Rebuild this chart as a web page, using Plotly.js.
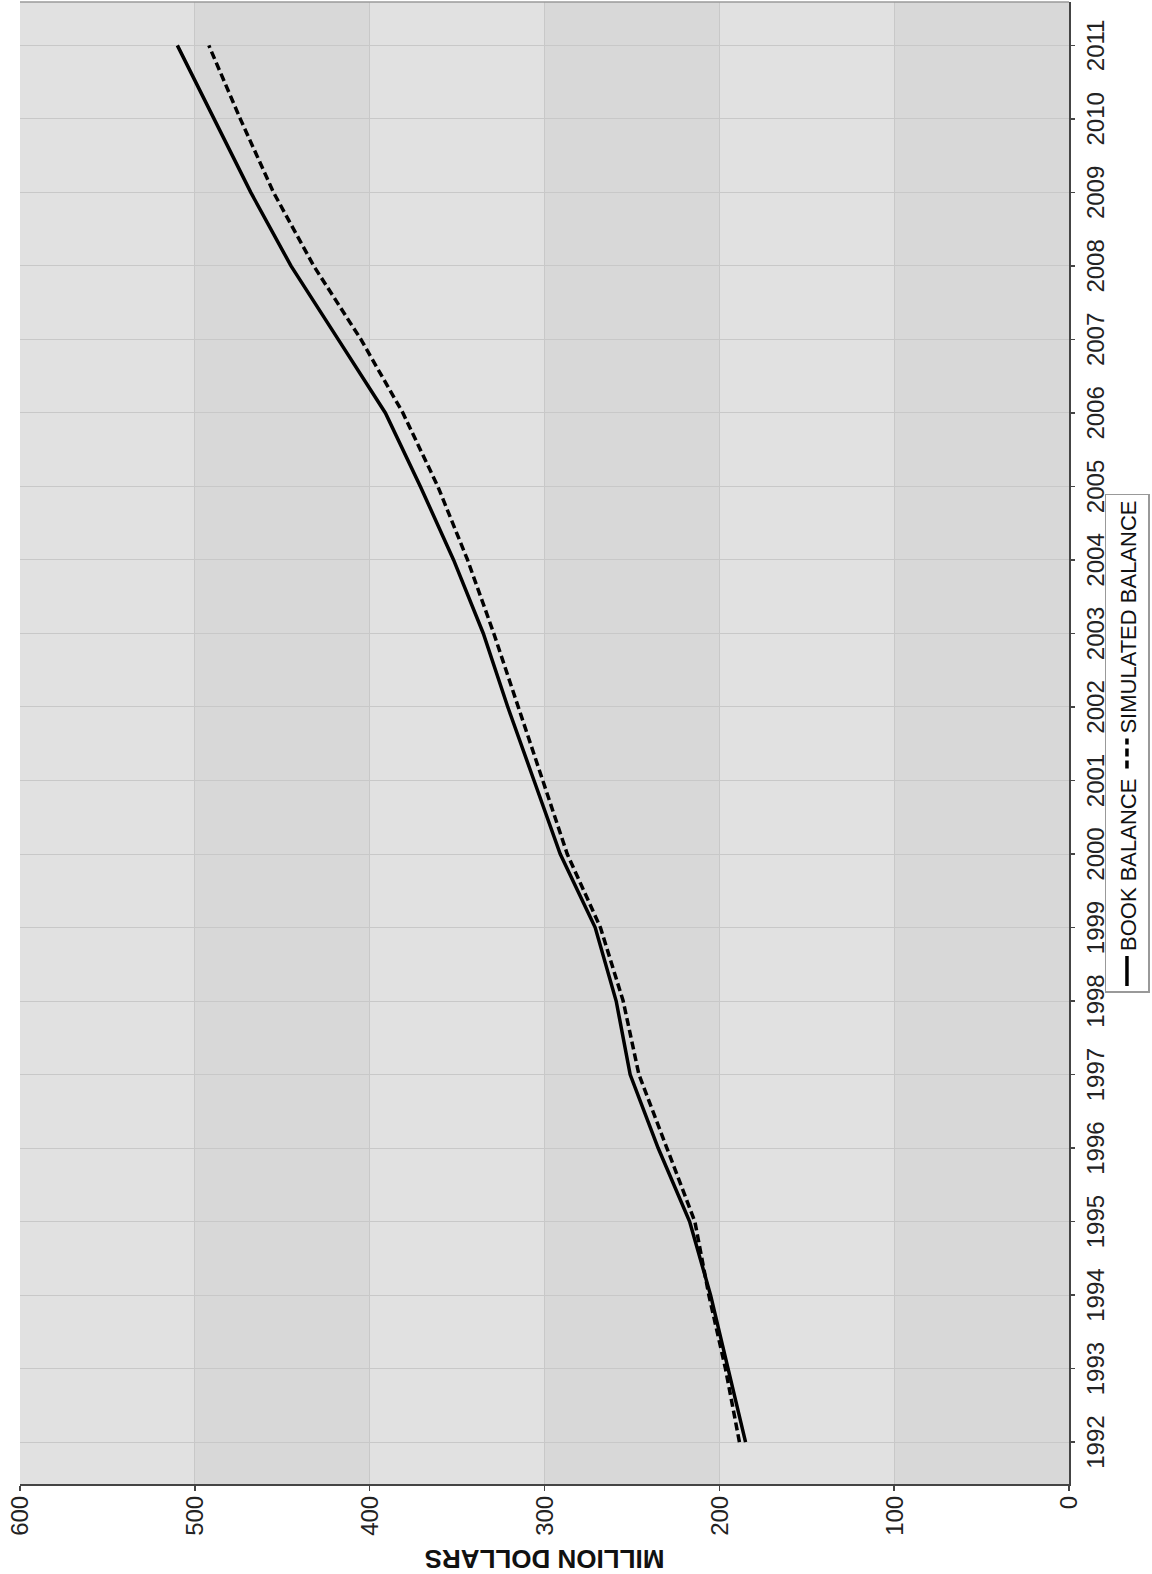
<!DOCTYPE html>
<html>
<head>
<meta charset="utf-8">
<script src="https://cdn.plot.ly/plotly-3.0.1.min.js"></script>
<style>
html, body { margin:0; padding:0; width:1152px; height:1574px; overflow:hidden; background:#ffffff; }
#wrap { position:absolute; left:0; top:0; width:1574px; height:1152px; transform-origin:0 0; transform:translate(0px,1574px) rotate(-90deg); }
#chart { width:1574px; height:1152px; }
</style>
</head>
<body>
<div id="wrap"><div id="chart"></div></div>
<script>
// ---- data ----
const years = [1992,1993,1994,1995,1996,1997,1998,1999,2000,2001,2002,2003,2004,2005,2006,2007,2008,2009,2010,2011];
const bookBalance = [185,195,205,217,235,251,259,271,291,306,321,335,352,371,391,418,445,468,489,510];
const simulatedBalance = [188.5,196.5,206,214,230,246,255,268,287,301,315,329,344,361,381,405,432,455,474,492];
const valueTicks = [0,100,200,300,400,500,600];
const seriesNames = ['BOOK BALANCE','SIMULATED BALANCE'];
const valueAxisTitle = 'MILLION DOLLARS';

// ---- styling ----
const narrow = '"Liberation Sans Narrow", "Arial Narrow", "Liberation Sans", Arial, sans-serif';
const regular = '"Liberation Sans", Arial, Helvetica, sans-serif';
const lightBg = '#e1e1e1';
const darkBg = '#d8d8d8';

// alternating bands: darker between every other pair of ticks (0-100, 200-300, 400-500)
const shapes = [];
for (let i = 0; i + 1 < valueTicks.length; i += 2) {
  shapes.push({
    type:'rect', xref:'paper', yref:'y', x0:0, x1:1,
    y0:valueTicks[i], y1:valueTicks[i+1],
    fillcolor:darkBg, line:{width:0}, layer:'below'
  });
}
// thin frame on the far edge of the plot area
shapes.push({type:'line', xref:'paper', yref:'paper', x0:1, x1:1, y0:0, y1:1,
  line:{color:'#9a9a9a', width:1.5}, layer:'above'});

const traces = [
  { x:years, y:bookBalance, name:seriesNames[0], type:'scatter', mode:'lines',
    line:{color:'#000000', width:3.5} },
  { x:years, y:simulatedBalance, name:seriesNames[1], type:'scatter', mode:'lines',
    line:{color:'#000000', width:3.5, dash:'8px,4px'} }
];

const layout = {
  width:1574, height:1152,
  margin:{l:90, r:2, t:20, b:83},
  paper_bgcolor:'#ffffff',
  plot_bgcolor:lightBg,
  showlegend:true,
  shapes:shapes,
  xaxis:{
    range:[1991.43, 2011.59],
    tickmode:'array', tickvals:years, ticktext:years.map(String),
    showgrid:true, gridcolor:'#c8c8c8', gridwidth:1,
    zeroline:false,
    showline:true, linecolor:'#444444', linewidth:2,
    ticks:'outside', ticklen:4, tickcolor:'#444444', tickwidth:1.5,
    tickfont:{family:narrow, size:24, color:'#222222'},
    fixedrange:true
  },
  yaxis:{
    range:[0,600],
    tickmode:'array', tickvals:valueTicks,
    showgrid:true, gridcolor:'#c8c8c8', gridwidth:1,
    zeroline:false,
    showline:true, linecolor:'#444444', linewidth:2,
    ticks:'outside', ticklen:5, tickcolor:'#444444', tickwidth:1.5,
    tickfont:{family:narrow, size:24, color:'#222222'},
    title:{text:valueAxisTitle, font:{family:narrow, size:26, color:'#111111', weight:'bold'}, standoff:14},
    fixedrange:true
  },
  legend:{
    orientation:'h', x:0.5, xanchor:'center', y:-0.034, yanchor:'top',
    bgcolor:'#ffffff', bordercolor:'#999999', borderwidth:1.5,
    font:{family:regular, size:22, color:'#111111'},
    itemwidth:30
  }
};

Plotly.newPlot('chart', traces, layout, {staticPlot:true, displayModeBar:false});
</script>
</body>
</html>
